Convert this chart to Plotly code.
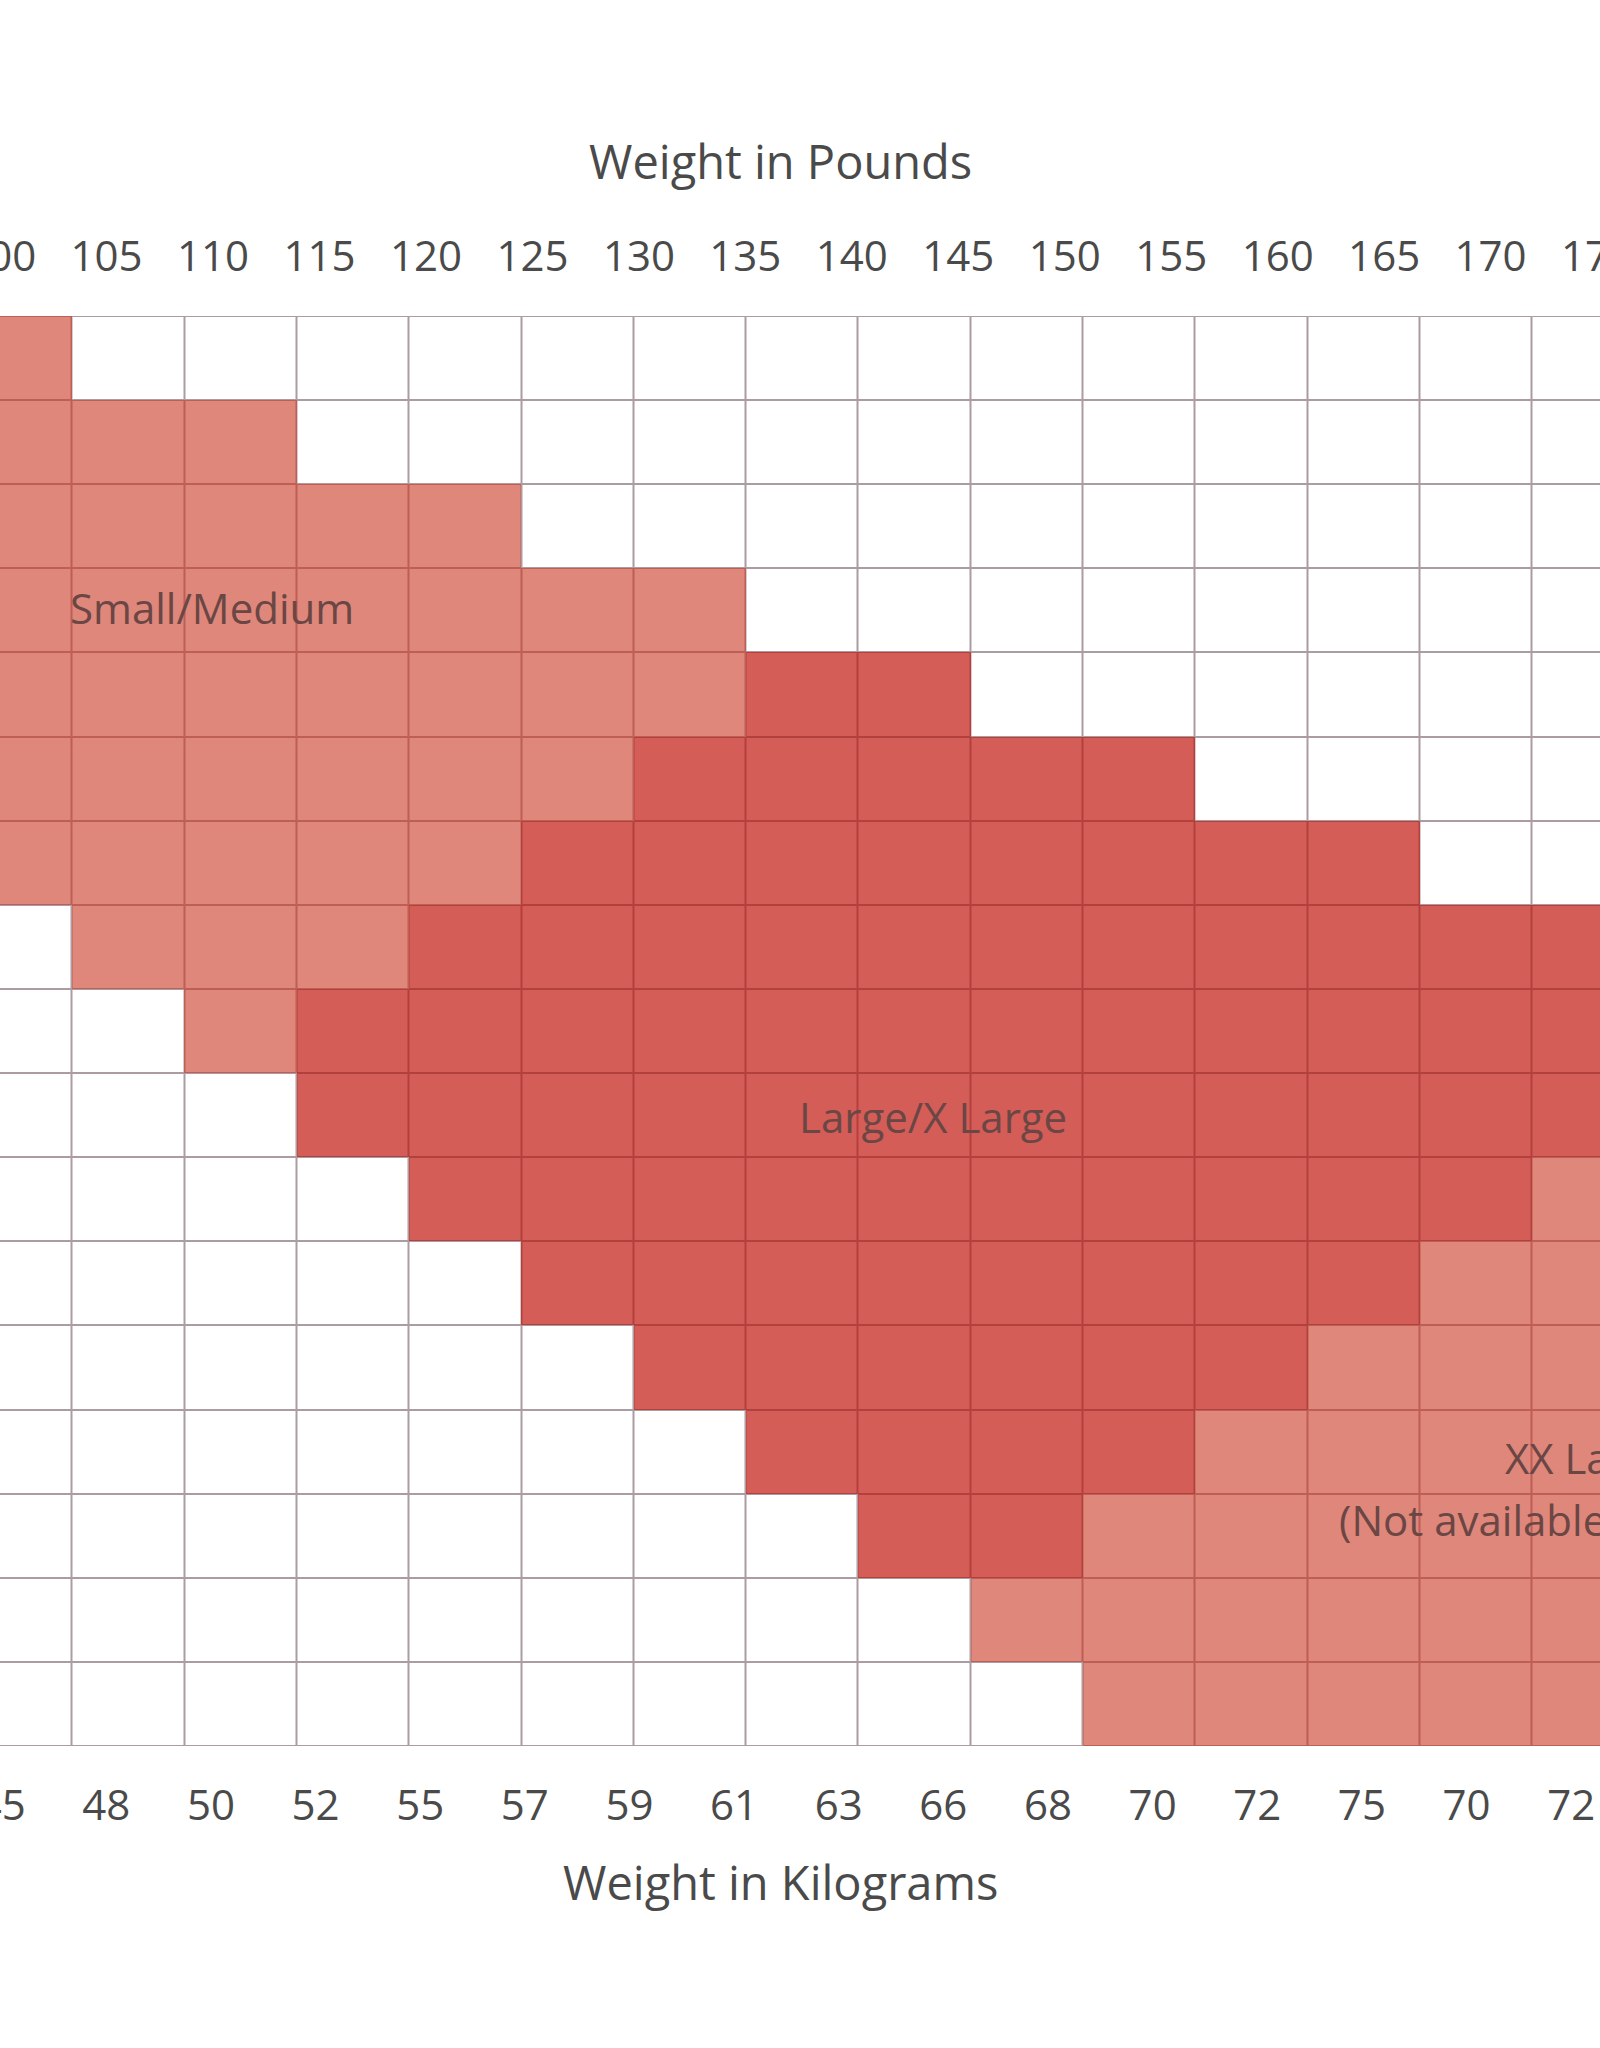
import plotly.graph_objects as go

# ---------------- data ----------------
# size zone of each cell: rows top->bottom, columns left->right
# "." = no size, "S" = Small/Medium, "L" = Large/X Large, "X" = XX Large
size_rows = [
    "S..............",
    "SSS............",
    "SSSSS..........",
    "SSSSSSS........",
    "SSSSSSSLL......",
    "SSSSSSLLLLL....",
    "SSSSSLLLLLLLL..",
    ".SSSLLLLLLLLLLL",
    "..SLLLLLLLLLLLL",
    "...LLLLLLLLLLLL",
    "....LLLLLLLLLLX",
    ".....LLLLLLLLXX",
    "......LLLLLLXXX",
    ".......LLLLXXXX",
    "........LLXXXXX",
    ".........XXXXXX",
    "..........XXXXX",
]
size_codes = {".": 0, "S": 1, "L": 2, "X": 3}
pound_labels = ["100", "105", "110", "115", "120", "125", "130", "135", "140",
                "145", "150", "155", "160", "165", "170", "175"]
kg_labels = ["45", "48", "50", "52", "55", "57", "59", "61", "63", "66", "68",
             "70", "72", "75", "70", "72"]
zone_names = ["Small/Medium", "Large/X Large", "XX Large", "(Not available"]
axis_titles = ["Weight in Pounds", "Weight in Kilograms"]

# ---------------- build ----------------
z = [[size_codes[c] for c in row] for row in size_rows]
n_rows = len(size_rows)
n_cols = len(size_rows[0])
cols = list(range(n_cols))
rows = list(range(n_rows))

W, H = 1600, 2048
M_TOP, M_BOT = 316, 302
plot_h = H - M_TOP - M_BOT
cell_px = 112.3
first_edge_px = 71.8
x_lo = 0.5 - first_edge_px / cell_px
x_hi = x_lo + W / cell_px

# label axes (labels spaced slightly tighter than the cells)
lb_off, lb_step = -0.3, 106.49
kg_off, kg_step = 1.7, 104.63
lb_range = [(0 - lb_off) / lb_step - 0.004, (W - lb_off) / lb_step]
kg_range = [(0 - kg_off) / kg_step, (W - kg_off) / kg_step]

WHITE = "#ffffff"
LIGHT = "#df877b"
DARK = "#d55d58"
fill_scale = [[0, WHITE], [1 / 3, LIGHT], [2 / 3, DARK], [1, LIGHT]]
line_scale = [[0, "#ab9ca2"], [1 / 3, "#bd5f55"], [2 / 3, "#b2413d"], [1, "#bd5f55"]]

FONT = "Open Sans"
TXT = "#4a4a4a"
LBL = "#6a4644"

fig = go.Figure()
# grid-line layer
fig.add_trace(go.Heatmap(z=z, x=cols, y=rows, zmin=0, zmax=3,
                         colorscale=line_scale, showscale=False,
                         hoverinfo="skip"))
# cell layer
fig.add_trace(go.Heatmap(z=z, x=cols, y=rows, zmin=0, zmax=3,
                         colorscale=fill_scale, showscale=False,
                         xgap=2, ygap=2, hoverinfo="skip"))
# anchors for label axes
fig.add_trace(go.Scatter(x=[lb_range[0]], y=[0], xaxis="x2", yaxis="y",
                         mode="markers", marker=dict(opacity=0),
                         hoverinfo="skip", showlegend=False))
fig.add_trace(go.Scatter(x=[kg_range[0]], y=[0], xaxis="x3", yaxis="y",
                         mode="markers", marker=dict(opacity=0),
                         hoverinfo="skip", showlegend=False))

tick_font = dict(family=FONT, size=42, color=TXT)
fig.update_layout(
    template="none",
    width=W, height=H,
    margin=dict(l=0, r=0, t=M_TOP, b=M_BOT, pad=0),
    paper_bgcolor="white", plot_bgcolor="white",
    showlegend=False,
    font=dict(family=FONT, color=TXT),
    xaxis=dict(range=[x_lo, x_hi], showticklabels=False, showgrid=False,
               zeroline=False, ticks="", showline=False, automargin=False,
               fixedrange=True),
    yaxis=dict(range=[n_rows - 0.5, -0.5], showticklabels=False, showgrid=False,
               zeroline=False, ticks="", showline=False, automargin=False,
               fixedrange=True),
    xaxis2=dict(overlaying="x", side="top", anchor="y", range=lb_range,
                tickmode="array", tickvals=list(range(len(pound_labels))),
                ticktext=pound_labels, ticks="", showgrid=False, zeroline=False,
                showline=False, automargin=False, tickfont=tick_font,
                ticklabelstandoff=36, ticklabeloverflow="allow"),
    xaxis3=dict(overlaying="x", side="bottom", anchor="y", range=kg_range,
                tickmode="array", tickvals=list(range(len(kg_labels))),
                ticktext=kg_labels, ticks="", showgrid=False, zeroline=False,
                showline=False, automargin=False, tickfont=tick_font,
                ticklabelstandoff=31, ticklabeloverflow="allow"),
)

title_font = dict(family=FONT, size=47, color=TXT)
title_x = 0.5 + (780 - first_edge_px) / cell_px
fig.add_annotation(x=title_x, xref="x", y=(H - M_BOT - 161) / plot_h, yref="paper",
                   text=axis_titles[0], showarrow=False, yanchor="middle",
                   font=title_font)
fig.add_annotation(x=title_x, xref="x", y=(H - M_BOT - 1882) / plot_h, yref="paper",
                   text=axis_titles[1], showarrow=False, yanchor="middle",
                   font=title_font)

ann_font = dict(family=FONT, size=42, color=LBL)
fig.add_annotation(x=1.75, y=2.96, xref="x", yref="y", text=zone_names[0],
                   showarrow=False, font=ann_font)
fig.add_annotation(x=8.17, y=9.02, xref="x", yref="y", text=zone_names[1],
                   showarrow=False, font=ann_font)
fig.add_annotation(x=13.24, y=13.07, xref="x", yref="y", text=zone_names[2],
                   showarrow=False, xanchor="left", font=ann_font)
fig.add_annotation(x=11.77, y=13.81, xref="x", yref="y", text=zone_names[3],
                   showarrow=False, xanchor="left", font=ann_font)

fig.write_html("out.html", config={"displayModeBar": False},
               post_script="document.body.style.margin='0';")
